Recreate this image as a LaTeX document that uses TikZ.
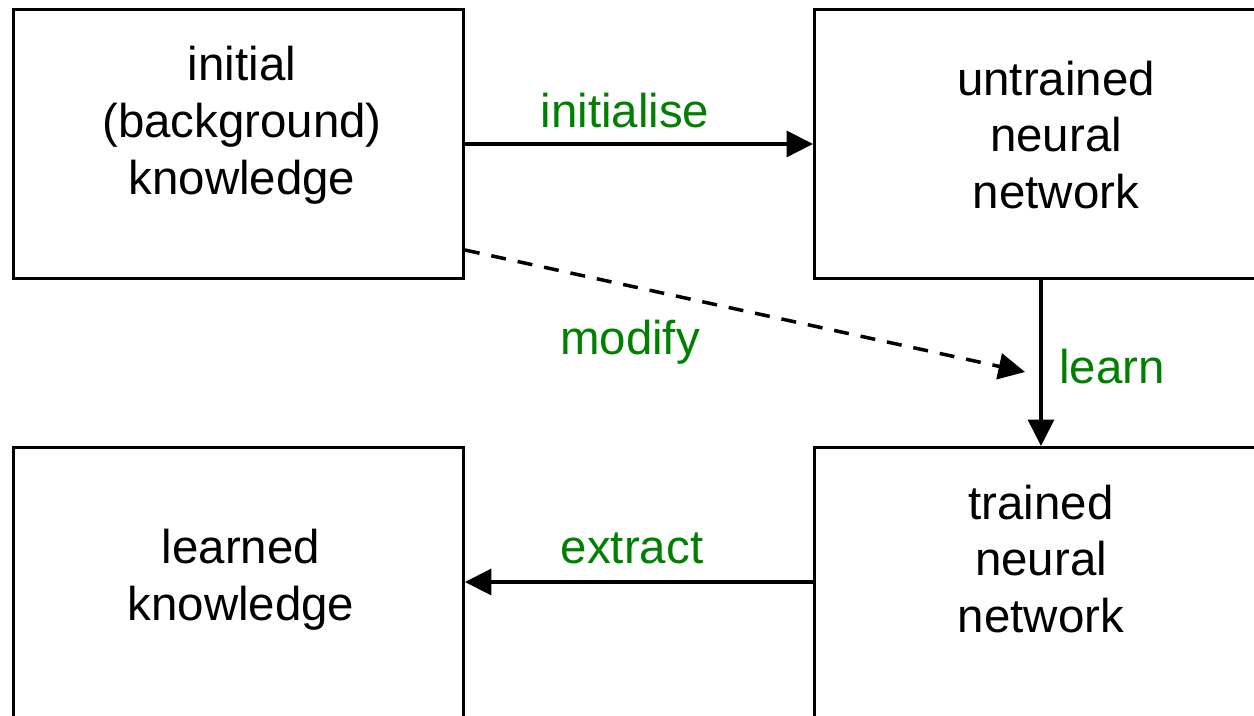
\documentclass[tikz,border=0pt]{standalone}
\usepackage{fontspec}
\setmainfont{Liberation Sans}
\usetikzlibrary{arrows.meta,calc}
\definecolor{lblgreen}{RGB}{0,128,0}
\tikzset{
  box/.style={rectangle, draw=black, line width=1.7pt, anchor=north west, inner sep=0pt,
              minimum width=9.0cm, minimum height=5.38cm},
  txt/.style={align=center, font=\fontsize{27}{32.4}\selectfont},
  connect/.style={-{Triangle[length=0.53cm,width=0.52cm]}, line width=2pt},
  lbl/.style={anchor=base, text=lblgreen, font=\fontsize{27}{32.4}\selectfont}
}

\begin{document}
\begin{tikzpicture}[x=0.02cm,y=-0.02cm]
  \useasboundingbox (0,0) rectangle (1254,716);
  \clip (0,0) rectangle (1254,716);

  % the four boxes (the right and lower ones run off the page)
  \node[box] (Initial) at (12,8) {};
  \node[box,minimum width=10cm] (Untrained) at (813,8) {};
  \node[box,minimum height=6cm] (Learned) at (12,446) {};
  \node[box,minimum width=10cm,minimum height=6cm] (Trained) at (813,446) {};

  \node[txt] (tInitial) at (242,125) {initial\\(background)\\knowledge};
  \node[txt] (tUntrained) at (1056,135) {untrained\\neural\\network};
  \node[txt] (tLearned) at (241,580) {learned\\knowledge};
  \node[txt] (tTrained) at (1041,559) {trained\\neural\\network};

  \coordinate (ymod) at (0,250);
  \coordinate (xlearn) at (1041,0);
  \coordinate (yext) at (0,582);
  \coordinate (mend) at (1025,372);

  \draw[connect] (Initial) -- (Untrained);
  \draw[connect] (Untrained.south -| xlearn) -- (Trained.north -| xlearn);
  \draw[connect] (Trained.west |- yext) -- (Learned.east |- yext);
  % dashed one
  \draw[connect, dash pattern=on 0.3cm off 0.24cm] (Initial.east |- ymod) -- (mend);

  \node[lbl] (lInit) at (625,128) {initialise};
  \node[lbl] (lMod) at (630,354) {modify};
  \node[lbl] (lLearn) at (1112,383) {learn};
  \node[lbl] (lExt) at (632,563) {extract};
\end{tikzpicture}
\end{document}
